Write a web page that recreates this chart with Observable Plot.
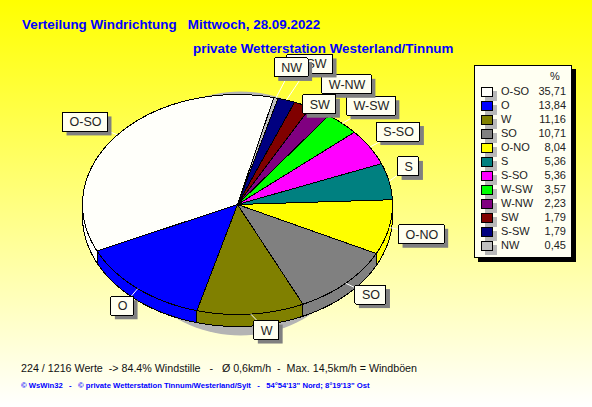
<!DOCTYPE html>
<html><head><meta charset="utf-8">
<script src="https://cdn.jsdelivr.net/npm/d3@7"></script>
<script src="https://cdn.jsdelivr.net/npm/@observablehq/plot@0.6"></script>
<style>
html,body{margin:0;padding:0}
body{width:592px;height:407px;position:relative;overflow:hidden;background:linear-gradient(#ffff00,#ffffff);font-family:"Liberation Sans",Arial,sans-serif}
#chart svg{background:transparent;display:block}
.t{position:absolute;white-space:pre;line-height:1}
.title{color:#0000ff;font-weight:bold;font-size:13.4px}
#legend{position:absolute;left:474px;top:65px;width:96px;height:191px;background:#fffff2;border:1px solid #000;box-shadow:4px 4px 0 #000;font-size:11px;color:#222}
.row{position:absolute;left:0;width:96px;height:14px}
.sw{position:absolute;left:6px;top:2px;width:10px;height:8px;border:1px solid #000;box-shadow:4px 4px 0 #b8b8b8;z-index:1}
.nm{position:absolute;left:26px;top:0;z-index:2}
.val{position:absolute;right:5px;top:0;z-index:2}
</style></head><body>
<div class="t title" style="left:22px;top:18px">Verteilung Windrichtung   Mittwoch, 28.09.2022</div>
<div class="t title" style="left:193px;top:42px">private Wetterstation Westerland/Tinnum</div>
<div id="chart"></div>
<div id="legend"></div>
<div class="t" style="left:21px;top:363px;font-size:10.7px;color:#111">224 / 1216 Werte  -&gt; 84.4% Windstille   -   Ø 0,6km/h  -  Max. 14,5km/h = Windböen</div>
<div class="t" style="left:21px;top:382px;font-size:7.66px;font-weight:bold;color:#0000ff">© WsWin32   -   © private Wetterstation Tinnum/Westerland/Sylt   -   54°54'13" Nord; 8°19'13" Ost</div>
<script>
// Data, in legend order
const directions = ["O-SO","O","W","SO","O-NO","S","S-SO","W-SW","W-NW","SW","S-SW","NW"];
const shares = [35.71,13.84,11.16,10.71,8.04,5.36,5.36,3.57,2.23,1.79,1.79,0.45];
const shareLabels = ["35,71","13,84","11,16","10,71","8,04","5,36","5,36","3,57","2,23","1,79","1,79","0,45"];
const colours = ["#fffffa","#0000ff","#808000","#808080","#ffff00","#008080","#ff00ff","#00ff00","#800080","#800000","#000080","#c0c0c0"];

// Pie geometry (page pixels; the x and y scales map them one to one)
const cx = 237, cy = 204, rx = 155, ry = 110, depth = 12, startDeg = 245;
const labelReach = 1.15;
const labelNudge = {"O-SO":[-14,-2],"NW":[10,-14],"S-SW":[16.5,-20],"SW":[7.5,15],"W-NW":[15,-12.5],"W-SW":[13.5,-5],
  "S-SO":[9,-6.5],"S":[-3,-11],"O-NO":[10,4],"SO":[9,0],"W":[14,0],"O":[0,5]};

const rows = directions.map((name,i)=>({name,share:shares[i],text:shareLabels[i],colour:colours[i],i}));
// The pie runs clockwise: first legend entry, then the rest backwards
const clockwise = [rows[0], ...rows.slice(1).reverse()];
const total = d3.sum(shares);
const pt = (deg,k=1,dy=0)=>{const a=deg*Math.PI/180;return {x:cx+k*rx*Math.sin(a),y:cy-k*ry*Math.cos(a)+dy}};

let acc = startDeg;
const slices = clockwise.map(r=>{const a0=acc,a1=acc+r.share/total*360;acc=a1;return {...r,a0,a1,mid:(a0+a1)/2}});
const arcDegs=(a0,a1)=>{const n=Math.max(2,Math.ceil(a1-a0));return d3.range(n+1).map(j=>a0+(a1-a0)*j/n)};

const faces=[],walls=[];
for(const s of slices){
  const deg=arcDegs(s.a0,s.a1);
  const face=[{x:cx,y:cy},...deg.map(a=>pt(a)),{x:cx,y:cy}];
  face.forEach(p=>faces.push({...p,id:s.name,colour:s.colour}));
  // Front of the pie: rim angles between 90 and 270 degrees (mod 360)
  const lo=Math.max(s.a0,90),hi=Math.min(s.a1,270);
  const lo2=Math.max(s.a0,450),hi2=Math.min(s.a1,630);
  for(const [l,h] of [[lo,hi],[lo2,hi2]]) if(h>l){
    const d=arcDegs(l,h);
    const w=[...d.map(a=>pt(a)),...d.slice().reverse().map(a=>pt(a,1,depth))];
    w.push(w[0]);
    w.forEach(p=>walls.push({...p,id:s.name+l,colour:s.colour}));
  }
}
const shadow=d3.range(0,361,3).map(a=>{const t=a*Math.PI/180;return {x:cx+3+125*Math.sin(t),y:213-122*Math.cos(t)}});

const ctx=document.createElement("canvas").getContext("2d");
ctx.font='12.5px "Liberation Sans"';
const bySlice=new Map(slices.map(s=>[s.name,s]));
const labels=directions.map(name=>{
  const s=bySlice.get(name),p=pt(s.mid,labelReach),[dx,dy]=labelNudge[name];
  const w=ctx.measureText(name).width+13;
  const x=p.x+dx,y=p.y+dy,rim=pt(s.mid);
  return {name,x,y,x1:x-w/2,x2:x+w/2,y1:y-9.5,y2:y+9.5,rimX:rim.x,rimY:rim.y};
});

const plot=Plot.plot({
  width:592,height:407,margin:0,
  x:{domain:[0,592],range:[0,592],axis:null},
  y:{domain:[0,407],range:[0,407],axis:null},
  color:{type:"identity"},
  marks:[
    Plot.line(shadow,{x:"x",y:"y",fill:"#b4b4b4",stroke:"none"}),
    Plot.line(walls,{x:"x",y:"y",z:"id",fill:"colour",stroke:"#000",strokeWidth:1,shapeRendering:"crispEdges"}),
    Plot.line(faces,{x:"x",y:"y",z:"id",fill:"colour",stroke:"#000",strokeWidth:1,shapeRendering:"crispEdges"}),
    Plot.link(labels,{x1:"rimX",y1:"rimY",x2:"x",y2:"y",stroke:"#fff",strokeWidth:1}),
    ...labels.flatMap(l=>[
      Plot.rect([l],{x1:d=>d.x1+4,x2:d=>d.x2+4,y1:d=>d.y1+4,y2:d=>d.y2+4,fill:"#808080"}),
      Plot.rect([l],{x1:"x1",x2:"x2",y1:"y1",y2:"y2",fill:"#fffff0",stroke:"#000",r:1,shapeRendering:"crispEdges"}),
      Plot.text([l],{x:"x",y:"y",text:"name",fontSize:12.5,fontFamily:"Liberation Sans",fill:"#222"})
    ])
  ]
});
document.getElementById("chart").append(plot);

// Legend
const legend=document.getElementById("legend");
const head=document.createElement("div");
head.className="t";head.textContent="%";head.style.cssText="left:75px;top:5px;font-size:11px";
legend.append(head);
rows.forEach((r,i)=>{
  const row=document.createElement("div");row.className="row";row.style.top=(19+i*14)+"px";
  row.innerHTML=`<div class="sw" style="background:${r.colour}"></div><span class="nm">${r.name}</span><span class="val">${r.text}</span>`;
  legend.append(row);
});
</script>
</body></html>
